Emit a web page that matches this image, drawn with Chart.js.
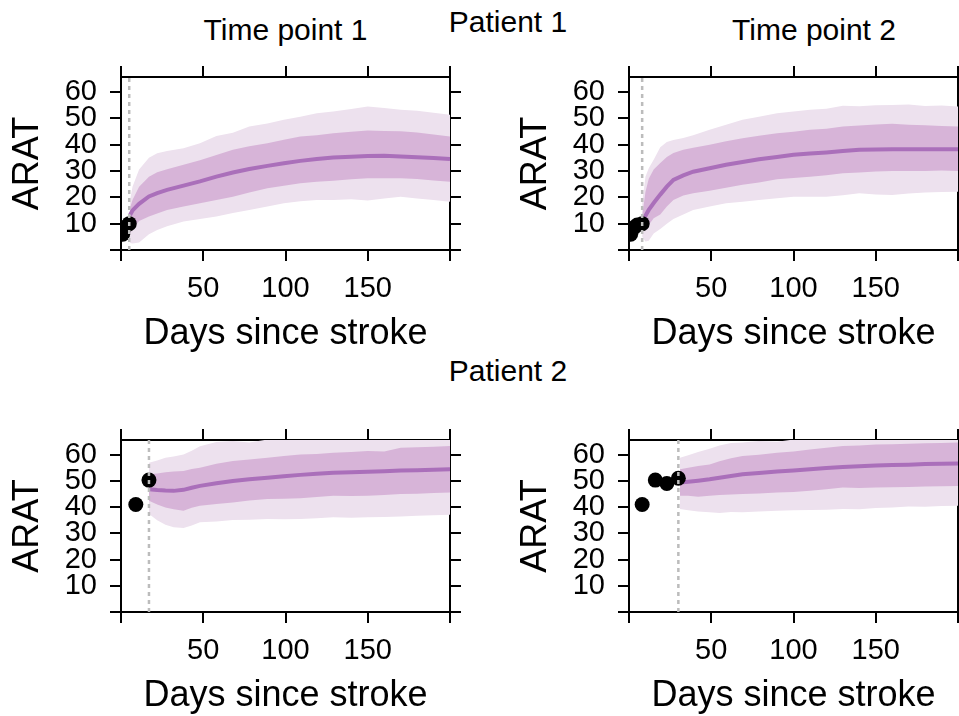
<!DOCTYPE html>
<html><head><meta charset="utf-8">
<script src="https://cdn.jsdelivr.net/npm/chart.js@4.4.1/dist/chart.umd.min.js"></script>
<style>
html,body{margin:0;padding:0;background:#fff;width:959px;height:716px;overflow:hidden;position:relative;font-family:"Liberation Sans",Arial,sans-serif;}
canvas{position:absolute;}
.t{position:absolute;font-size:30px;line-height:30px;white-space:nowrap;color:#000;transform:translateX(-50%);}
</style></head><body>
<div class="t" style="left:508px;top:7px">Patient 1</div>
<div class="t" style="left:285.5px;top:15px">Time point 1</div>
<div class="t" style="left:814px;top:15px">Time point 2</div>
<div class="t" style="left:508px;top:356px">Patient 2</div>
<canvas id="c1"></canvas>
<canvas id="c2"></canvas>
<canvas id="c3"></canvas>
<canvas id="c4"></canvas>
<script>
// ---- axis ticks ----
const X_TICKS = [0, 50, 100, 150, 200];
const X_TICK_LABELS = ['', '50', '100', '150', ''];
const Y_TICKS = [0, 10, 20, 30, 40, 50, 60];
const Y_TICK_LABELS = ['', '10', '20', '30', '40', '50', '60'];
const X_MIN = 0, X_MAX = 200, Y_MIN = 0, Y_MAX = 65.6;

// ---- Patient 1, time point 1 ----
const p1Days    = [5.5, 7, 11, 17, 22, 28, 38, 48, 58, 68, 78, 89, 99, 109, 119, 129, 140, 150, 160, 170, 180, 190, 200];
const p1OuterHi = [19, 24, 30.5, 35, 36.7, 37.5, 38.6, 40.5, 43.2, 44.5, 46.8, 48, 49.4, 50.5, 51.9, 52.5, 53.5, 54.4, 53.8, 53.2, 52.8, 52, 51.3];
const p1InnerHi = [16, 19, 24, 27.8, 29.5, 30.6, 32.3, 34, 36, 38, 39.3, 40.5, 41.8, 43, 43.5, 44.3, 44.8, 45.3, 45.1, 45, 44.6, 43.8, 43];
const p1Median  = [13.3, 15, 17.5, 20.3, 21.6, 22.8, 24.4, 26, 27.8, 29.4, 30.7, 31.9, 32.9, 33.8, 34.5, 35.1, 35.4, 35.6, 35.7, 35.5, 35.2, 34.9, 34.5];
const p1InnerLo = [6, 8, 11, 12.7, 13.8, 15.2, 16.5, 17.7, 19, 20.2, 21.8, 23.4, 24.4, 25.3, 25.9, 26.3, 26.8, 27.2, 27.2, 27.2, 26.9, 26.4, 25.9];
const p1OuterLo = [2.7, 2.5, 2.8, 6, 7.6, 9, 10.8, 11.8, 12.7, 14, 15.2, 16.5, 17.7, 18.5, 19, 19, 19.2, 18.8, 19.5, 20.2, 19.5, 19, 18.3];
const p1ObsDays = [1, 2, 5];
const p1ObsArat = [6, 8.5, 10];
const p1Cutoff  = 5;

// ---- Patient 1, time point 2 ----
const p2Days    = [8, 10, 12, 15, 19, 23, 27, 33, 39, 49, 59, 69, 79, 90, 100, 110, 120, 130, 140, 150, 160, 170, 180, 190, 200];
const p2OuterHi = [18, 27.8, 31, 34.2, 39, 41, 41.7, 42.5, 43.5, 45.6, 47.5, 49.4, 50.5, 51.9, 52.5, 53.2, 53.6, 54.7, 54.5, 54.9, 55, 55.2, 54.6, 54.8, 54.4];
const p2InnerHi = [13, 22, 27, 30.5, 33, 35.3, 36.8, 38, 38.8, 39.9, 41.2, 42.4, 43.3, 44.3, 44.8, 45.6, 46, 46.8, 47.2, 47.6, 47.9, 47.5, 47.3, 47, 46.8];
const p2Median  = [10.8, 13, 15.2, 17.8, 21, 24, 26.6, 28.3, 29.7, 31, 32.3, 33.4, 34.4, 35.3, 36.1, 36.6, 37, 37.5, 38, 38.1, 38.2, 38.2, 38.2, 38.2, 38.2];
const p2InnerLo = [8.5, 7.6, 9.5, 12, 13.5, 16.5, 19, 20.7, 21.5, 22.5, 23.6, 24.7, 25.6, 26.8, 27.3, 27.8, 28.3, 29.1, 29.4, 29.8, 30, 30, 30, 30.1, 30];
const p2OuterLo = [5, 3.2, 3.5, 6.3, 8, 10, 11.8, 13.5, 15.2, 16.5, 17.7, 18.3, 19, 19.6, 20.2, 20.2, 20.2, 20.8, 21.5, 21, 20.9, 21.4, 21.8, 22, 22.1];
const p2ObsDays = [1, 3, 5, 8];
const p2ObsArat = [6, 8.5, 9.5, 10];
const p2Cutoff  = 8;

// ---- Patient 2, time point 1 ----
const p3Days    = [17, 22, 27, 32, 38, 43, 48, 58, 68, 78, 89, 99, 109, 119, 129, 140, 150, 160, 170, 180, 190, 200];
const p3OuterHi = [56.9, 57.8, 58.8, 59.3, 60.1, 61.5, 63.2, 64.8, 65.2, 64.6, 65.8, 66.5, 67, 67, 67.5, 67.5, 68, 68, 68, 68, 68, 68];
const p3InnerHi = [52.5, 52.8, 53.3, 53.6, 53.8, 54.5, 55, 56.5, 57.6, 58.2, 58.8, 59.5, 60.1, 60.3, 60.7, 61, 61.4, 61.2, 62.6, 62.8, 63, 63.3];
const p3Median  = [46.8, 46.5, 46.3, 46.2, 46.6, 47.4, 48.1, 49.1, 50, 50.6, 51.2, 51.8, 52.3, 52.7, 53.1, 53.3, 53.5, 53.7, 54, 54.1, 54.3, 54.4];
const p3InnerLo = [42.4, 41, 39.9, 39.2, 38.6, 39.8, 40.5, 41.2, 41.8, 42.5, 43.1, 43.2, 43.4, 43.9, 44.3, 44.2, 44.3, 44.6, 45, 45.1, 45.4, 45.6];
const p3OuterLo = [37.4, 35, 33.3, 32.3, 32, 33, 34.2, 34.5, 35.1, 35.2, 35.5, 35.4, 35.5, 35.8, 36.1, 35.9, 36.1, 36.2, 36.4, 36.7, 36.9, 37.1];
const p3ObsDays = [9, 17];
const p3ObsArat = [41, 50.3];
const p3Cutoff  = 17;

// ---- Patient 2, time point 2 ----
const p4Days    = [31, 36, 42, 49, 55, 62, 69, 79, 90, 100, 110, 120, 130, 140, 150, 160, 170, 180, 190, 200];
const p4OuterHi = [58.8, 59.8, 61, 62.3, 63.5, 64.5, 64.6, 65.2, 64.9, 65.8, 66.5, 67, 67, 67.5, 67.5, 68, 68, 68, 68, 68];
const p4InnerHi = [54.4, 55, 55.7, 56.3, 57.5, 58.6, 59.5, 60, 60.7, 61.2, 62, 62.6, 63.3, 63.5, 63.9, 64, 64.2, 64.4, 64.5, 64.6];
const p4Median  = [49.4, 49.7, 50.1, 50.6, 51.2, 51.9, 52.5, 53, 53.6, 54, 54.4, 54.9, 55.3, 55.6, 55.9, 56.1, 56.2, 56.4, 56.5, 56.6];
const p4InnerLo = [44.3, 44.3, 44, 44.3, 44.6, 44.8, 45, 45.2, 45.6, 45.8, 46.2, 46.8, 47.5, 47.3, 47.5, 47.6, 47.7, 47.9, 48, 48.1];
const p4OuterLo = [39.3, 38.8, 38.3, 38, 37.8, 38.1, 38, 38.3, 38.6, 38.8, 38.9, 39, 39.3, 39.2, 39.7, 39.9, 40.2, 40.1, 40.4, 40.5];
const p4ObsDays = [8, 16, 23, 30];
const p4ObsArat = [41, 50.3, 49, 51];
const p4Cutoff  = 30;

// ---- styling ----
const FONT = '"Liberation Sans", Arial, sans-serif';
const OUTER_COL = 'rgb(237,225,238)';
const INNER_COL = 'rgb(215,180,216)';
const LINE_COL  = 'rgb(170,111,186)';
const DASH_COL  = 'rgb(188,188,188)';
Chart.defaults.font.family = FONT;
Chart.defaults.color = '#000';

const zip = (xs, ys) => xs.map((x, i) => ({x: x, y: ys[i]}));

function axisCommon() {
  return {
    grid: {drawOnChartArea: false, drawTicks: true, tickLength: 11, color: '#000', lineWidth: 2},
    border: {display: true, color: '#000', width: 2}
  };
}

function makePanel(id, g, d) {
  const cv = document.getElementById(id);
  const cx = g.L - 121, cy = g.T - 37;
  const cw = g.R - cx + 20, ch = g.B - cy + 110;
  cv.width = cw; cv.height = ch;
  cv.style.left = cx + 'px'; cv.style.top = cy + 'px';
  cv.style.width = cw + 'px'; cv.style.height = ch + 'px';
  const xTicks = s => { s.ticks = X_TICKS.map(v => ({value: v})); };
  const yTicks = s => { s.ticks = Y_TICKS.map(v => ({value: v})); };
  new Chart(cv, {
    type: 'line',
    data: {datasets: [
      {data: zip(d.days, d.outerHi), fill: '+1', backgroundColor: OUTER_COL, borderColor: 'rgba(0,0,0,0)', borderWidth: 0, pointRadius: 0, order: 5},
      {data: zip(d.days, d.outerLo), fill: false, borderColor: 'rgba(0,0,0,0)', borderWidth: 0, pointRadius: 0, order: 6},
      {data: zip(d.days, d.innerHi), fill: '+1', backgroundColor: INNER_COL, borderColor: 'rgba(0,0,0,0)', borderWidth: 0, pointRadius: 0, order: 3},
      {data: zip(d.days, d.innerLo), fill: false, borderColor: 'rgba(0,0,0,0)', borderWidth: 0, pointRadius: 0, order: 4},
      {data: zip(d.days, d.median), fill: false, borderColor: LINE_COL, borderWidth: 4, pointRadius: 0, order: 2},
      {data: zip(d.obsDays, d.obsArat), showLine: false, pointRadius: 7.5, pointBackgroundColor: '#000', pointBorderColor: '#000', pointBorderWidth: 0, clip: 0, order: 1},
      {data: [{x: d.cutoff, y: Y_MIN}, {x: d.cutoff, y: Y_MAX}], fill: false, borderColor: DASH_COL, borderWidth: 2.5, borderDash: [4, 4], pointRadius: 0, order: 0}
    ]},
    options: {
      responsive: false, animation: false, devicePixelRatio: 1, events: [],
      layout: {padding: 0},
      plugins: {legend: {display: false}, tooltip: {enabled: false}},
      scales: {
        x: Object.assign(axisCommon(), {
          type: 'linear', position: 'bottom', min: X_MIN, max: X_MAX,
          afterBuildTicks: xTicks,
          ticks: {callback: (v, i) => X_TICK_LABELS[i], font: {size: 29, family: FONT}, color: '#000', padding: 11, maxRotation: 0, autoSkip: false},
          title: {display: true, text: 'Days since stroke', color: '#000', font: {size: 36, family: FONT, lineHeight: 1}, padding: {top: 0, bottom: 7.6}},
          afterFit: s => { s.height = 110; }
        }),
        x2: Object.assign(axisCommon(), {
          type: 'linear', position: 'top', min: X_MIN, max: X_MAX,
          afterBuildTicks: xTicks,
          ticks: {display: false},
          afterFit: s => { s.height = 37; }
        }),
        y: Object.assign(axisCommon(), {
          type: 'linear', position: 'left', min: Y_MIN, max: Y_MAX,
          afterBuildTicks: yTicks,
          ticks: {callback: (v, i) => Y_TICK_LABELS[i], font: {size: 29, family: FONT, lineHeight: 1}, color: '#000', padding: 13, autoSkip: false},
          title: {display: true, text: 'ARAT', color: '#000', font: {size: 36, family: FONT, lineHeight: 1}, padding: {top: 10.5, bottom: 0}},
          afterFit: s => { s.width = 121; }
        }),
        y2: Object.assign(axisCommon(), {
          type: 'linear', position: 'right', min: Y_MIN, max: Y_MAX,
          afterBuildTicks: yTicks,
          ticks: {display: false},
          afterFit: s => { s.width = 20; }
        })
      }
    }
  });
}

makePanel('c1', {L: 121, T: 77, R: 450, B: 250},
  {days: p1Days, outerHi: p1OuterHi, innerHi: p1InnerHi, median: p1Median, innerLo: p1InnerLo, outerLo: p1OuterLo, obsDays: p1ObsDays, obsArat: p1ObsArat, cutoff: p1Cutoff});
makePanel('c2', {L: 629, T: 77, R: 958, B: 250},
  {days: p2Days, outerHi: p2OuterHi, innerHi: p2InnerHi, median: p2Median, innerLo: p2InnerLo, outerLo: p2OuterLo, obsDays: p2ObsDays, obsArat: p2ObsArat, cutoff: p2Cutoff});
makePanel('c3', {L: 121, T: 440, R: 450, B: 612},
  {days: p3Days, outerHi: p3OuterHi, innerHi: p3InnerHi, median: p3Median, innerLo: p3InnerLo, outerLo: p3OuterLo, obsDays: p3ObsDays, obsArat: p3ObsArat, cutoff: p3Cutoff});
makePanel('c4', {L: 629, T: 440, R: 958, B: 612},
  {days: p4Days, outerHi: p4OuterHi, innerHi: p4InnerHi, median: p4Median, innerLo: p4InnerLo, outerLo: p4OuterLo, obsDays: p4ObsDays, obsArat: p4ObsArat, cutoff: p4Cutoff});
</script>
</body></html>
